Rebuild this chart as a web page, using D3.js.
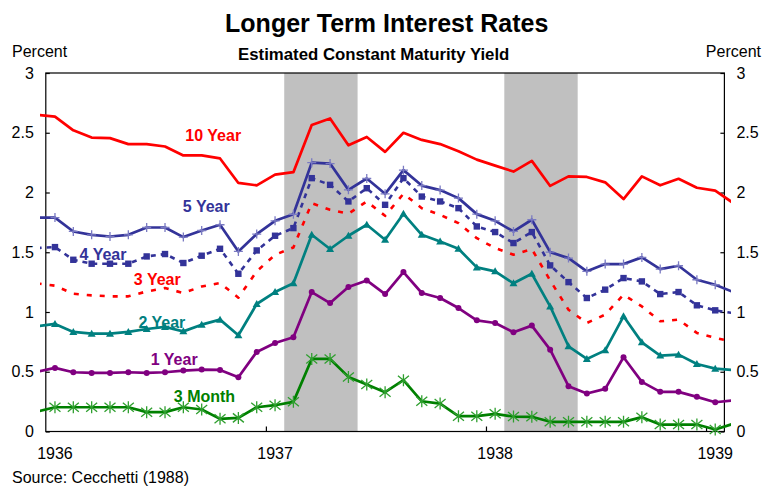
<!DOCTYPE html>
<html><head><meta charset="utf-8">
<script src="https://cdn.jsdelivr.net/npm/d3@7"></script>
<style>
body{margin:0;background:#fff}
svg{display:block;font-family:"Liberation Sans",Arial,Helvetica,sans-serif}
</style>
</head><body>
<svg id="c" width="764" height="487"></svg>
<script>
// ---- data (monthly, Dec 1935 .. Feb 1939) ----
const firstMonth = [1935, 11]; // Dec 1935 (JS month index)
const tenYear   = [2.65,2.635,2.52,2.46,2.455,2.405,2.405,2.385,2.31,2.31,2.285,2.08,2.06,2.15,2.17,2.565,2.62,2.395,2.465,2.34,2.50,2.44,2.405,2.345,2.275,2.225,2.175,2.265,2.055,2.135,2.13,2.085,1.945,2.135,2.06,2.115,2.04,2.015,1.91];
const fiveYear  = [1.79,1.79,1.674,1.646,1.632,1.646,1.707,1.707,1.627,1.682,1.73,1.507,1.652,1.763,1.818,2.25,2.242,2.022,2.117,1.989,2.187,2.058,2.02,1.953,1.819,1.763,1.674,1.772,1.501,1.451,1.34,1.401,1.401,1.457,1.359,1.387,1.27,1.228,1.166];
const fourYear  = [1.535,1.543,1.437,1.404,1.404,1.404,1.465,1.485,1.41,1.471,1.529,1.32,1.515,1.638,1.702,2.12,2.064,1.925,2.036,1.897,2.12,1.966,1.925,1.869,1.716,1.669,1.577,1.669,1.39,1.25,1.117,1.187,1.284,1.256,1.15,1.167,1.056,1.014,0.99];
const threeYear = [1.24,1.22,1.153,1.139,1.131,1.131,1.172,1.2,1.159,1.214,1.242,1.12,1.34,1.479,1.54,1.911,1.855,1.822,1.925,1.805,1.989,1.869,1.813,1.744,1.618,1.535,1.479,1.527,1.264,1.019,0.908,0.978,1.145,1.047,0.922,0.936,0.825,0.783,0.75];
const twoYear   = [0.88,0.9,0.833,0.819,0.819,0.833,0.858,0.875,0.838,0.894,0.936,0.805,1.067,1.167,1.24,1.646,1.527,1.638,1.73,1.604,1.822,1.646,1.59,1.529,1.373,1.34,1.24,1.32,1.047,0.713,0.607,0.679,0.964,0.746,0.635,0.643,0.565,0.526,0.515];
const oneYear   = [0.50,0.532,0.496,0.49,0.49,0.496,0.49,0.496,0.51,0.518,0.515,0.454,0.666,0.741,0.788,1.167,1.075,1.209,1.264,1.15,1.334,1.159,1.117,1.033,0.93,0.908,0.83,0.886,0.685,0.379,0.318,0.357,0.621,0.415,0.332,0.332,0.29,0.245,0.26];
const threeMonth= [0.165,0.203,0.203,0.203,0.203,0.203,0.162,0.162,0.203,0.184,0.106,0.114,0.203,0.22,0.248,0.607,0.607,0.457,0.393,0.329,0.429,0.253,0.234,0.128,0.128,0.148,0.125,0.123,0.081,0.081,0.081,0.081,0.081,0.12,0.058,0.058,0.058,0.017,0.065];

const yTicks = [0, 0.5, 1, 1.5, 2, 2.5, 3];
const yearLabels = ["1936", "1937", "1938", "1939"];
const recessionStart = ["1937-02", "1938-02"];
const recessionEnd   = ["1937-05", "1938-05"];

// series label anchors: [month, value]
const labelMonth = ["1936-09","1936-09","1936-03","1936-06","1936-06","1936-07","1936-09"];
const labelShift = [0.63,0.25,0.62,0.58,0.83,0.5,0.15];
const labelValue = [2.483,1.883,1.487,1.278,0.912,0.606,0.299];

// ---- build ----
const months = tenYear.map((_, k) => d3.timeFormat("%Y-%m")(new Date(firstMonth[0], firstMonth[1] + k, 1)));
const idx = m => months.indexOf(m);

const svg = d3.select("#c");
const x = d3.scaleLinear().domain([idx("1936-01") - 0.5, idx("1939-01") + 0.5]).range([45.8, 724.4]);
const y = d3.scaleLinear().domain([0, 3]).range([431.5, 73]);

const series = [
  {name:"10 Year", values:tenYear,   color:"#FF0000", dash:null,  marker:null},
  {name:"5 Year",  values:fiveYear,  color:"#333399", dash:null,  marker:"plus"},
  {name:"4 Year",  values:fourYear,  color:"#333399", dash:"5,5", marker:"square"},
  {name:"3 Year",  values:threeYear, color:"#FF0000", dash:"5,8", marker:null},
  {name:"2 Year",  values:twoYear,   color:"#008080", dash:null,  marker:"triangle"},
  {name:"1 Year",  values:oneYear,   color:"#800080", dash:null,  marker:"circle"},
  {name:"3 Month", values:threeMonth,color:"#008000", dash:null,  marker:"asterisk"}
];

// recession shading
svg.append("g").selectAll("rect").data(recessionStart).join("rect")
  .attr("x", (d,i) => x(idx(d) - 0.5))
  .attr("width", (d,i) => x(idx(recessionEnd[i]) + 0.5) - x(idx(d) - 0.5))
  .attr("y", y(3)).attr("height", y(0) - y(3))
  .attr("fill", "#C0C0C0");

// frame
svg.append("rect")
  .attr("x", x.range()[0]).attr("y", y(3))
  .attr("width", x.range()[1] - x.range()[0]).attr("height", y(0) - y(3))
  .attr("fill", "none").attr("stroke", "#000").attr("stroke-width", 1.2);

// axes
const fmt = d => String(d);
const styleAxis = g => {
  g.select(".domain").remove();
  g.attr("font-family", null).attr("font-size", 16);
  g.selectAll("text").attr("fill", "#000");
  g.selectAll("line").attr("stroke", "#000").attr("stroke-width", 1.2);
};
svg.append("g").attr("transform", `translate(${x.range()[0]},0)`)
  .call(d3.axisLeft(y).tickValues(yTicks).tickSize(-4).tickPadding(12).tickFormat(fmt)).call(styleAxis);
svg.append("g").attr("transform", `translate(${x.range()[1]},0)`)
  .call(d3.axisRight(y).tickValues(yTicks).tickSize(-4).tickPadding(12).tickFormat(fmt)).call(styleAxis);
svg.append("g").attr("transform", `translate(0,${y(0)})`)
  .call(d3.axisBottom(x).tickValues(yearLabels.slice(1).map(yr => idx(yr + "-01") - 0.5)).tickSize(-5).tickFormat(""))
  .call(styleAxis);

svg.append("g").selectAll("text").data(yearLabels).join("text")
  .attr("x", d => x(idx(d + "-01"))).attr("y", 459.3)
  .attr("text-anchor", "middle").attr("font-size", 16).text(d => d);

// series labels
svg.append("g").selectAll("text").data(series).join("text")
  .attr("x", (d,i) => x(idx(labelMonth[i]) + labelShift[i]))
  .attr("y", (d,i) => y(labelValue[i]))
  .attr("dy", "0.36em")
  .attr("text-anchor", "middle").attr("font-size", 16).attr("font-weight", "bold")
  .attr("fill", d => d.color).text(d => d.name);

// clip
svg.append("clipPath").attr("id", "clip").append("rect")
  .attr("x", 40).attr("y", 60).attr("width", 691).attr("height", 380);

const plot = svg.append("g").attr("clip-path", "url(#clip)");
const line = d3.line().x((d,k) => x(k)).y(d => y(d));

const drawOrder = [0, 3, 2, 1, 4, 5, 6];
drawOrder.forEach(si => {
  const s = series[si];
  const g = plot.append("g");
  g.append("path").datum(s.values).attr("d", line)
    .attr("fill", "none").attr("stroke", s.color)
    .attr("stroke-width", s.dash ? 2.6 : 2.7)
    .attr("stroke-linejoin", "round")
    .attr("stroke-dasharray", s.dash);
  const pts = s.values.map((v,k) => ({k, v})).filter(p => p.k >= idx("1936-01") && p.k <= idx("1939-01"));
  const m = g.append("g");
  if (s.marker === "square") {
    m.selectAll("rect").data(pts).join("rect")
      .attr("x", p => x(p.k) - 3.2).attr("y", p => y(p.v) - 3.2)
      .attr("width", 6.4).attr("height", 6.4).attr("fill", s.color);
  } else if (s.marker === "circle") {
    m.selectAll("circle").data(pts).join("circle")
      .attr("cx", p => x(p.k)).attr("cy", p => y(p.v)).attr("r", 3)
      .attr("fill", s.color);
  } else if (s.marker === "triangle") {
    m.selectAll("path").data(pts).join("path")
      .attr("transform", p => `translate(${x(p.k)},${y(p.v)})`)
      .attr("d", "M0,-4L4,3L-4,3Z").attr("fill", s.color);
  } else if (s.marker === "plus") {
    m.selectAll("path").data(pts).join("path")
      .attr("transform", p => `translate(${x(p.k)},${y(p.v)})`)
      .attr("d", "M-4.5,0H4.5M0,-4.5V4.5")
      .attr("stroke", "#7a7ac2").attr("stroke-width", 1.3).attr("fill", "none");
  } else if (s.marker === "asterisk") {
    m.selectAll("path").data(pts).join("path")
      .attr("transform", p => `translate(${x(p.k)},${y(p.v)})`)
      .attr("d", "M-5.5,-4.5L5.5,4.5M-5.5,4.5L5.5,-4.5M0,-6V6")
      .attr("stroke", "#2f9f2f").attr("stroke-width", 1.3).attr("fill", "none");
  }
});

// titles
svg.append("text").attr("x", 386.7).attr("y", 31.5).attr("text-anchor", "middle")
  .attr("font-size", 25).attr("font-weight", "bold").text("Longer Term Interest Rates");
svg.append("text").attr("x", 373.7).attr("y", 60).attr("text-anchor", "middle")
  .attr("font-size", 16.8).attr("font-weight", "bold").text("Estimated Constant Maturity Yield");
svg.append("text").attr("x", 12).attr("y", 56.7).attr("font-size", 16).text("Percent");
svg.append("text").attr("x", 761).attr("y", 56.7).attr("text-anchor", "end").attr("font-size", 16).text("Percent");
svg.append("text").attr("x", 12).attr("y", 483.3).attr("font-size", 16).text("Source: Cecchetti (1988)");
</script>
</body></html>
